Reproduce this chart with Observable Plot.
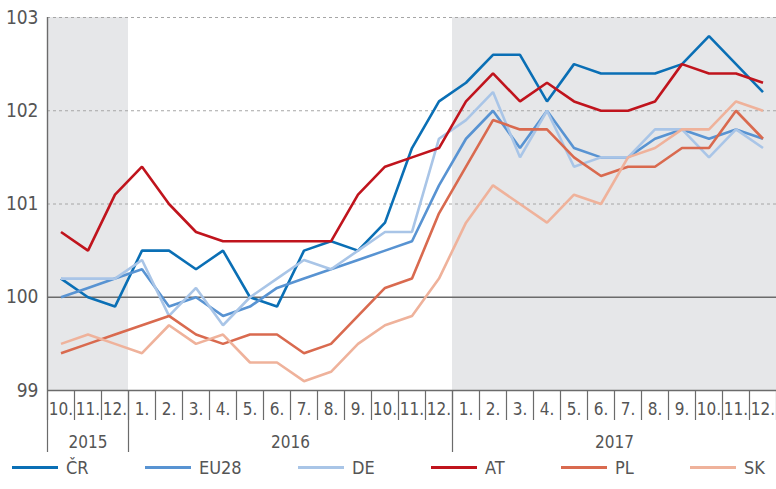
<!DOCTYPE html>
<html>
<head>
<meta charset="utf-8">
<script src="https://cdn.jsdelivr.net/npm/d3@7"></script>
<script src="https://cdn.jsdelivr.net/npm/@observablehq/plot@0.6"></script>
<style>
  html, body { margin: 0; padding: 0; background: #fff; }
  body { width: 776px; height: 489px; overflow: hidden; font-family: "Liberation Sans Narrow", "DejaVu Sans Condensed", sans-serif; }
  #chart svg { display: block; }
  .legend { display: flex; justify-content: space-between; padding: 0 11px 0 12px; height: 24px; align-items: center; color: #555; font-size: 18px; }
  .legend .item { display: flex; align-items: center; }
  .legend .sw { width: 46px; height: 3px; margin-right: 8px; }
</style>
</head>
<body>
<div id="chart"></div>
<div class="legend" id="legend"></div>
<script>
const months = ["10.","11.","12.","1.","2.","3.","4.","5.","6.","7.","8.","9.","10.","11.","12.","1.","2.","3.","4.","5.","6.","7.","8.","9.","10.","11.","12."];
const years = ["2015","2016","2017"];
const yearStart = [0, 3, 15];
const yearEnd = [3, 15, 27];
const shadedYears = ["2015","2017"];

const seriesNames = ["ČR","EU28","DE","AT","PL","SK"];
const seriesColors = ["#0a6fb5","#5893d2","#a9c5e7","#c0141d","#d96a4f","#efb29b"];

const CR   = [100.2,100.0,99.9,100.5,100.5,100.3,100.5,100.0,99.9,100.5,100.6,100.5,100.8,101.6,102.1,102.3,102.6,102.6,102.1,102.5,102.4,102.4,102.4,102.5,102.8,102.5,102.2];
const EU28 = [100.0,100.1,100.2,100.3,99.9,100.0,99.8,99.9,100.1,100.2,100.3,100.4,100.5,100.6,101.2,101.7,102.0,101.6,102.0,101.6,101.5,101.5,101.7,101.8,101.7,101.8,101.7];
const DE   = [100.2,100.2,100.2,100.4,99.8,100.1,99.7,100.0,100.2,100.4,100.3,100.5,100.7,100.7,101.7,101.9,102.2,101.5,102.0,101.4,101.5,101.5,101.8,101.8,101.5,101.8,101.6];
const AT   = [100.7,100.5,101.1,101.4,101.0,100.7,100.6,100.6,100.6,100.6,100.6,101.1,101.4,101.5,101.6,102.1,102.4,102.1,102.3,102.1,102.0,102.0,102.1,102.5,102.4,102.4,102.3];
const PL   = [99.4,99.5,99.6,99.7,99.8,99.6,99.5,99.6,99.6,99.4,99.5,99.8,100.1,100.2,100.9,101.4,101.9,101.8,101.8,101.5,101.3,101.4,101.4,101.6,101.6,102.0,101.7];
const SK   = [99.5,99.6,99.5,99.4,99.7,99.5,99.6,99.3,99.3,99.1,99.2,99.5,99.7,99.8,100.2,100.8,101.2,101.0,100.8,101.1,101.0,101.5,101.6,101.8,101.8,102.1,102.0];
const yTicks = [99,100,101,102,103];

const seriesValues = [CR, EU28, DE, AT, PL, SK];
const rows = [];
seriesNames.forEach((name, s) => seriesValues[s].forEach((v, i) => rows.push({series: name, i: i + 0.5, value: v})));
const monthRows = months.map((m, i) => ({label: m, x: i + 0.5}));
const yearRows = years.map((y, k) => ({label: y, x1: yearStart[k], x2: yearEnd[k], xc: (yearStart[k] + yearEnd[k]) / 2}));
const shaded = yearRows.filter(d => shadedYears.includes(d.label));
const monthBounds = d3.range(months.length + 1);
const yearBounds = [...new Set([...yearStart, ...yearEnd])];

const font = '"Liberation Sans Narrow", "DejaVu Sans Condensed", sans-serif';

const chart = Plot.plot({
  width: 776,
  height: 455,
  marginLeft: 47,
  marginRight: 0,
  marginTop: 17,
  marginBottom: 65,
  style: {fontFamily: font, color: "#555", background: "transparent", overflow: "visible"},
  x: {type: "linear", domain: [0, months.length], axis: null},
  y: {domain: [99, 103], axis: null},
  color: {domain: seriesNames, range: seriesColors},
  marks: [
    Plot.rect(shaded, {x1: "x1", x2: "x2", y1: 99, y2: 103, fill: "#e6e7e9"}),
    Plot.ruleY(yTicks.filter(t => t > 100), {stroke: "#a6a6a6", strokeDasharray: "3,3", strokeWidth: 1}),
    Plot.ruleY([100], {stroke: "#6b6b6b", strokeWidth: 1.6}),
    Plot.ruleY([99], {stroke: "#6b6b6b", strokeWidth: 1.6}),
    Plot.ruleX([0], {stroke: "#6b6b6b", strokeWidth: 1.4}),
    Plot.axisX({ticks: monthBounds, tickSize: 30, tickFormat: () => "", label: null, stroke: "#6b6b6b", strokeWidth: 1.2}),
    Plot.axisX({ticks: yearBounds.filter(b => b < months.length), tickSize: 62, tickFormat: () => "", label: null, stroke: "#6b6b6b", strokeWidth: 1.2}),
    Plot.text(monthRows, {x: "x", y: 99, text: "label", dy: 19, fontSize: 17, fill: "#555"}),
    Plot.text(yearRows, {x: "xc", y: 99, text: "label", dy: 52, fontSize: 17, fill: "#555"}),
    Plot.axisY({ticks: yTicks, tickSize: 0, tickPadding: 9, fontSize: 19, fill: "#555", label: null, tickFormat: d3.format("d")}),
    Plot.line(rows, {x: "i", y: "value", z: "series", stroke: "series", strokeWidth: 2.6, strokeLinejoin: "miter", strokeLinecap: "butt"})
  ]
});
document.getElementById("chart").appendChild(chart);

const legend = document.getElementById("legend");
seriesNames.forEach((name, s) => {
  const item = document.createElement("div");
  item.className = "item";
  const sw = document.createElement("span");
  sw.className = "sw";
  sw.style.background = seriesColors[s];
  const t = document.createElement("span");
  t.textContent = name;
  item.appendChild(sw);
  item.appendChild(t);
  legend.appendChild(item);
});
</script>
</body>
</html>
